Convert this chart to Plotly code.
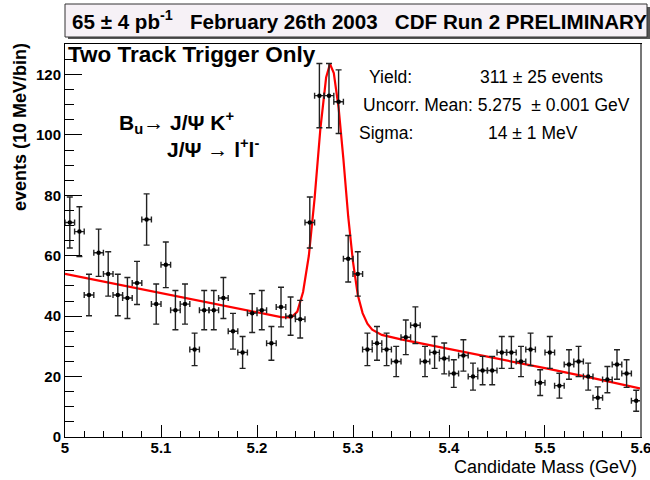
import plotly.graph_objects as go
import numpy as np

# ---- data ----
bin_lo = 5.0
bin_width = 0.01
counts = [71, 68, 47, 61, 54, 47, 46, 51, 72, 44,
          57, 42, 44, 29, 42, 42, 46, 35, 28, 41,
          42, 31, 43, 40, 39, 71, 113, 113, 111, 59,
          54, 29, 31, 29, 25, 33, 37, 25, 28, 26,
          21, 27, 20, 22, 22, 28, 28, 25, 29, 18,
          28, 17, 24, 25, 20, 13, 19, 24, 21, 12]

fit_x = [5.000, 5.050, 5.100, 5.150, 5.200, 5.225, 5.236, 5.242, 5.248, 5.254,
         5.260, 5.266, 5.272, 5.276, 5.280, 5.285, 5.290, 5.295, 5.300, 5.305,
         5.310, 5.315, 5.320, 5.330, 5.350, 5.400, 5.450, 5.500, 5.550, 5.600]
fit_y = [54.0, 50.8, 47.7, 44.5, 41.3, 39.7, 39.6, 41.5, 48.0, 60.0,
         79.0, 102.0, 119.0, 123.5, 120.5, 109.0, 92.0, 73.0, 58.0, 47.0,
         41.0, 37.5, 35.5, 33.8, 32.3, 29.2, 26.0, 22.8, 19.5, 16.0]

x_ticks = [5.0, 5.1, 5.2, 5.3, 5.4, 5.5, 5.6]
x_tick_labels = ["5", "5.1", "5.2", "5.3", "5.4", "5.5", "5.6"]
y_ticks = [0, 20, 40, 60, 80, 100, 120]

centers = [bin_lo + bin_width * (i + 0.5) for i in range(len(counts))]
errs = [float(np.sqrt(c)) for c in counts]

# ---- geometry helpers (pixels -> paper) ----
L, R, T, B = 65, 641, 44, 437
W, H = R - L, B - T
def px(x):
    return (x - L) / W
def py(y):
    return (B - y) / H

FONT = "Liberation Sans, Arial, Helvetica, sans-serif"

fig = go.Figure()
fig.add_trace(go.Scatter(
    x=fit_x, y=fit_y, mode="lines",
    line=dict(color="#ff0000", width=2.2),
    hoverinfo="skip", showlegend=False))
fig.add_trace(go.Scatter(
    x=centers, y=counts, mode="markers",
    marker=dict(color="black", size=4.5, symbol="circle"),
    error_y=dict(type="data", array=errs, color="#222222", thickness=1.4, width=3),
    error_x=dict(type="constant", value=bin_width / 2, color="#222222", thickness=1.4, width=3),
    showlegend=False))

fig.update_layout(
    width=650, height=480,
    margin=dict(l=L, r=650 - R, t=T, b=480 - B, autoexpand=False),
    paper_bgcolor="white", plot_bgcolor="white",
    font=dict(family=FONT, color="black"),
    showlegend=False,
)
fig.update_xaxes(
    range=[4.99999, 5.60001], tickvals=x_ticks, ticktext=x_tick_labels,
    ticks="inside", ticklen=12, tickwidth=1, tickcolor="black",
    minor=dict(ticks="inside", ticklen=6, dtick=0.02, tickcolor="black", tickwidth=1),
    showgrid=False, zeroline=False,
    showline=True, linecolor="black", linewidth=1, mirror=True,
    tickfont=dict(family=FONT, size=15, weight="bold"),
    ticklabeloverflow="allow", automargin=False, ticklabelstandoff=-3,
)
fig.update_yaxes(
    range=[0, 130.1], tickvals=y_ticks,
    ticks="inside", ticklen=17, tickwidth=1, tickcolor="black",
    minor=dict(ticks="inside", ticklen=9, dtick=5, tickcolor="black", tickwidth=1),
    showgrid=False, zeroline=False,
    showline=True, linecolor="black", linewidth=1, mirror=True,
    tickfont=dict(family=FONT, size=15, weight="bold"),
    ticklabeloverflow="allow", automargin=False,
)

shapes = []
# right frame edge (gray, thicker)
shapes.append(dict(type="line", xref="paper", yref="paper", x0=1, x1=1, y0=0, y1=1,
                   line=dict(color="#777777", width=2)))
# top info box with shadow
shapes.append(dict(type="rect", xref="paper", yref="paper",
                   x0=px(68), x1=px(650), y0=py(39), y1=py(7),
                   fillcolor="#555555", line=dict(width=0), layer="above"))
shapes.append(dict(type="rect", xref="paper", yref="paper",
                   x0=px(65), x1=px(647), y0=py(37), y1=py(4),
                   fillcolor="#f6f1f6", line=dict(color="#333333", width=1), layer="above"))
fig.update_layout(shapes=shapes)

ann = []
def text(s, x, y, size, bold=False, xanchor="left", yanchor="middle", angle=0):
    ann.append(dict(text=s, xref="paper", yref="paper", x=px(x), y=py(y),
                    xanchor=xanchor, yanchor=yanchor, showarrow=False, textangle=angle,
                    font=dict(family=FONT, size=size, color="black",
                              weight="bold" if bold else "normal")))

text("65 ± 4 pb<sup>-1</sup>   February 26th 2003   CDF Run 2 PRELIMINARY", 70, 20, 20.6, bold=True)
text("Two Track Trigger Only", 66, 55, 22.5, bold=True)
text("B<sub>u</sub>→ J/Ψ K<sup>+</sup>", 117, 122, 21, bold=True)
text("J/Ψ → l<sup>+</sup>l<sup>-</sup>", 165, 148, 21, bold=True)
text("Yield:", 367, 77, 17.5)
text("311 ± 25 events", 478, 77, 17.5)
text("Uncorr. Mean: 5.275  ± 0.001 GeV", 361, 105, 17.5)
text("Sigma:", 357, 133, 17.5)
text("14 ± 1 MeV", 486, 133, 17.5)
text("Candidate Mass (GeV)", 639, 467, 18, xanchor="right")
text("events (10 MeV/bin)", 20, 41, 18, bold=True, xanchor="center", yanchor="top", angle=-90)
fig.update_layout(annotations=ann)

fig.write_html("out.html")
